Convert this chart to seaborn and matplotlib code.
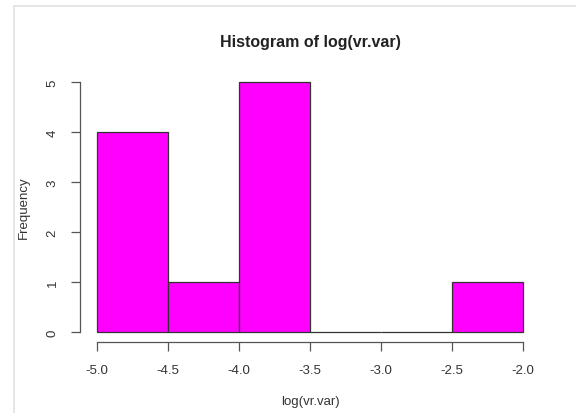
import matplotlib
matplotlib.use("Agg")
import matplotlib.pyplot as plt
import seaborn as sns
from matplotlib.lines import Line2D

# Histogram bins
bin_edges = [-5.0, -4.5, -4.0, -3.5, -3.0, -2.5, -2.0]
bin_centers = [-4.75, -4.25, -3.75, -3.25, -2.75, -2.25]
counts = [4, 1, 5, 0, 0, 1]

x_ticks = [-5.0, -4.5, -4.0, -3.5, -3.0, -2.5, -2.0]
x_tick_labels = ["-5.0", "-4.5", "-4.0", "-3.5", "-3.0", "-2.5", "-2.0"]
y_ticks = [0, 1, 2, 3, 4, 5]

sns.set_style("white")
plt.rcParams['font.family'] = ['Liberation Sans', 'DejaVu Sans']

W, H = 576, 414
fig = plt.figure(figsize=(W / 100, H / 100), dpi=100)
ax = fig.add_axes([80 / W, 1 - 343 / H, (540 - 80) / W, (343 - 73) / H])

sns.histplot(x=bin_centers, weights=counts, bins=bin_edges, color="#ff00ff",
             alpha=1, edgecolor="#333333", linewidth=0.9, ax=ax)

ax.set_xlim(-5.12, -1.88)
ax.set_ylim(-0.2, 5.2)

for s in ["top", "right"]:
    ax.spines[s].set_visible(False)
ax.spines["left"].set_bounds(0, 5)
ax.spines["bottom"].set_bounds(-5, -2)
for s in ["left", "bottom"]:
    ax.spines[s].set_color("#555555")
    ax.spines[s].set_linewidth(0.9)

ax.set_xticks(x_ticks)
ax.set_xticklabels(x_tick_labels)
ax.set_yticks(y_ticks)
ax.tick_params(axis="both", direction="out", length=6.5, width=0.9,
               bottom=True, left=True,
               color="#555555", labelsize=9.5, labelcolor="#333333", pad=9)
ax.tick_params(axis="y", labelrotation=90)
for lab in ax.get_yticklabels():
    lab.set_va("center")

ax.set_xlabel("log(vr.var)", fontsize=9.5, color="#333333", labelpad=14)
ax.set_ylabel("Frequency", fontsize=9.5, color="#333333", labelpad=12)
fig.text((80 + 540) / 2 / W, 1 - 42 / H, "Histogram of log(vr.var)",
         ha="center", va="center", fontsize=11.5, fontweight="bold", color="#222222")

# faint screenshot frame
fig.add_artist(Line2D([14 / W, 14 / W], [0, 1 - 7 / H], color="#e0e0e0", lw=1.2))
fig.add_artist(Line2D([14 / W, 1], [1 - 7 / H, 1 - 7 / H], color="#e0e0e0", lw=1.2))

fig.savefig("out.png", dpi=100)
